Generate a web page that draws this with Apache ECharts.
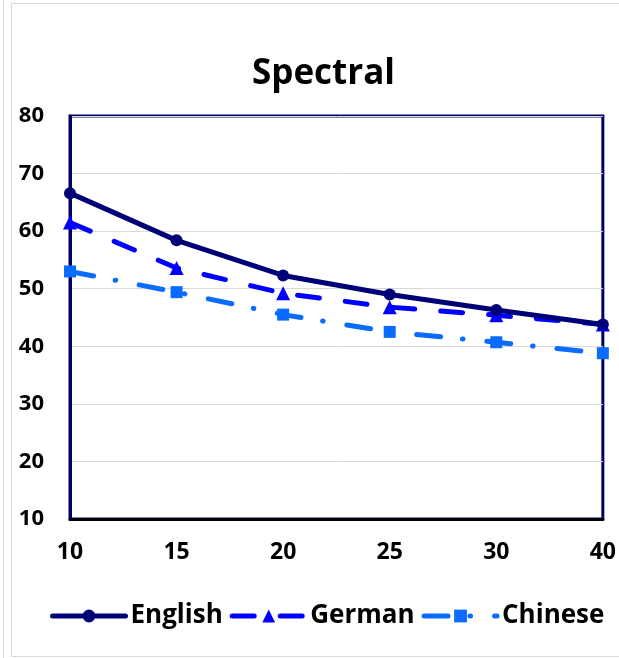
<!DOCTYPE html>
<html>
<head>
<meta charset="utf-8">
<script src="https://cdn.jsdelivr.net/npm/echarts@6/dist/echarts.min.js"></script>
<style>
html,body{margin:0;padding:0;background:#fff;}
#chart{width:619px;height:658px;}
</style>
</head>
<body>
<div id="chart"></div>
<script>
const categories = ['10', '15', '20', '25', '30', '40'];
const english = [66.6, 58.4, 52.3, 49.0, 46.3, 43.8];
const german = [61.5, 53.6, 49.2, 46.8, 45.4, 43.8];
const chinese = [53.0, 49.4, 45.5, 42.5, 40.7, 38.8];
const yTicks = { min: 10, max: 80, interval: 10 };

const FONT = '"Open Sans", Lato, sans-serif';
const chart = echarts.init(document.getElementById('chart'), null, { renderer: 'canvas' });
chart.setOption({
  animation: false,
  backgroundColor: '#ffffff',
  graphic: [
    { type: 'line', shape: { x1: 3.5, y1: 0, x2: 3.5, y2: 658 }, style: { stroke: '#d9d9d9', lineWidth: 1 }, silent: true },
    { type: 'rect', shape: { x: 11.5, y: 3.5, width: 620, height: 653 }, style: { fill: 'none', stroke: '#d9d9d9', lineWidth: 1 }, silent: true }
  ],
  title: {
    text: 'Spectral',
    left: 247,
    top: 52,
    textStyle: { fontFamily: FONT, fontWeight: 'bold', fontSize: 35, color: '#000' }
  },
  legend: {
    left: 45,
    top: 598,
    itemWidth: 73,
    itemHeight: 16,
    itemGap: 7,
    lineStyle: { width: 5, type: 'inherit', cap: 'round' },
    textStyle: { fontFamily: FONT, fontWeight: 'bold', fontSize: 26, color: '#000' },
    data: ['English', 'German', 'Chinese']
  },
  grid: {
    left: 70, right: 16, top: 116, bottom: 139,
    show: true, borderColor: '#000066', borderWidth: 3
  },
  xAxis: {
    type: 'category',
    data: categories,
    boundaryGap: false,
    axisLine: { lineStyle: { color: '#000', width: 3 } },
    axisTick: { show: false },
    axisLabel: { fontFamily: FONT, fontWeight: 'bold', fontSize: 23, color: '#000', margin: 22 },
    splitLine: { show: false }
  },
  yAxis: {
    type: 'value',
    min: yTicks.min, max: yTicks.max, interval: yTicks.interval,
    axisLine: { show: true, lineStyle: { color: '#000066', width: 3 } },
    axisTick: { show: false },
    axisLabel: { fontFamily: FONT, fontWeight: 'bold', fontSize: 22, color: '#000', margin: 26 },
    splitLine: { show: true, lineStyle: { color: '#d9d9d9', width: 1 } }
  },
  series: [
    {
      name: 'English', type: 'line', data: english,
      symbol: 'circle', symbolSize: 12,
      itemStyle: { color: '#000077' },
      lineStyle: { color: '#000077', width: 5 },
      z: 4
    },
    {
      name: 'German', type: 'line', data: german,
      symbol: 'triangle', symbolSize: 14,
      itemStyle: { color: '#0000ff' },
      lineStyle: { color: '#0000ff', width: 5, type: [22, 26], cap: 'round' },
      z: 3
    },
    {
      name: 'Chinese', type: 'line', data: chinese,
      symbol: 'rect', symbolSize: 12,
      itemStyle: { color: '#0a6cff' },
      lineStyle: { color: '#0a6cff', width: 5, type: [24, 22, 0.5, 24], cap: 'round' },
      z: 2
    }
  ]
});
</script>
</body>
</html>
